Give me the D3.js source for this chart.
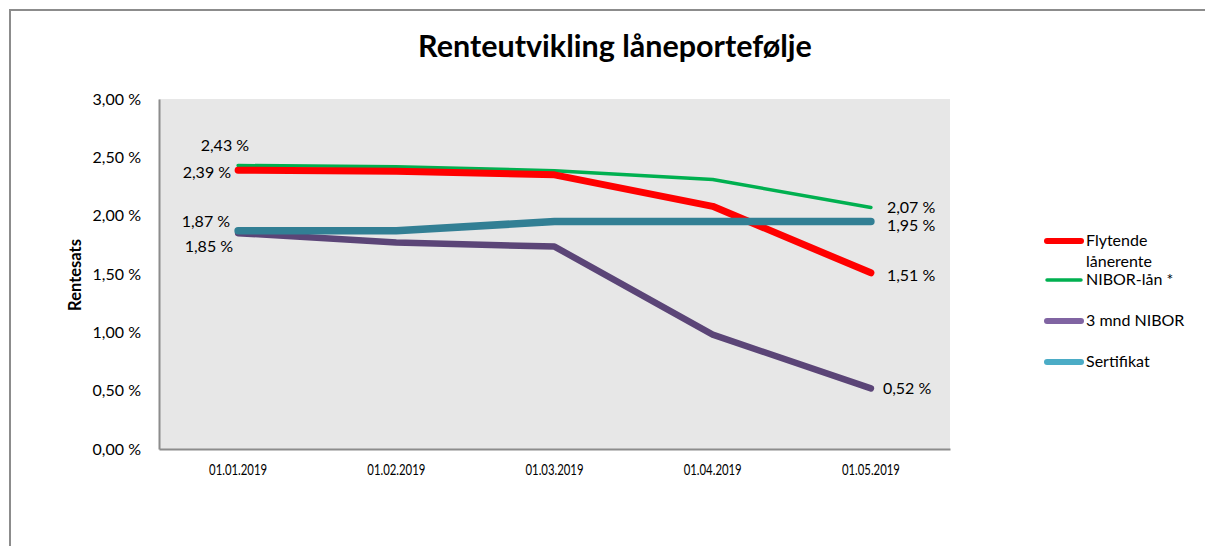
<!DOCTYPE html>
<html>
<head>
<meta charset="utf-8">
<script src="https://cdn.jsdelivr.net/npm/d3@7"></script>
<style>
  body { margin: 0; background: #fff; }
  svg text { font-family: Lato, "Open Sans", sans-serif; fill: #000; }
</style>
</head>
<body>
<script>
(function(){
   var width = 1205;
   var height = 546;

   // data
   var dates = ["01.01.2019", "01.02.2019", "01.03.2019", "01.04.2019", "01.05.2019"];
   var flytende = [2.39, 2.38, 2.35, 2.08, 1.51];
   var niborLan = [2.43, 2.42, 2.385, 2.31, 2.07];
   var mndNibor = [1.85, 1.77, 1.735, 0.98, 0.52];
   var sertifikat = [1.87, 1.87, 1.95, 1.95, 1.95];
   var yTicks = [0, 0.5, 1, 1.5, 2, 2.5, 3];

   var series = [
     { name: "Flytende lånerente", values: flytende, color: "#ff0000", legend: "#ff0000", w: 7, lw: 6 },
     { name: "NIBOR-lån *", values: niborLan, color: "#00b050", legend: "#00b050", w: 3.5, lw: 3.5 },
     { name: "3 mnd NIBOR", values: mndNibor, color: "#5b4577", legend: "#8064a2", w: 6.5, lw: 6 },
     { name: "Sertifikat", values: sertifikat, color: "#327f94", legend: "#4bacc6", w: 7.5, lw: 6 }
   ];

   var fmt = function(v){ return v.toFixed(2).replace(".", ",") + " %"; };

   var plot = { left: 159, right: 950, top: 99, bottom: 449 };

   var svg = d3.select("body").append("svg")
       .attr("width", width)
       .attr("height", height);

   // outer chart border
   svg.append("path")
       .attr("d", "M10," + height + " L10,10 L" + width + ",10")
       .attr("fill", "none")
       .attr("stroke", "#8c8c8c")
       .attr("stroke-width", 2);

   svg.append("text")
       .attr("x", 615).attr("y", 57)
       .attr("text-anchor", "middle")
       .style("font-size", "30.5px")
       .style("font-weight", "bold")
       .text("Renteutvikling låneportefølje");

   var xScale = d3.scaleBand()
       .domain(dates)
       .range([plot.left, plot.right]);
   var xPos = function(i){ return xScale(dates[i]) + xScale.bandwidth() / 2; };

   var yScale = d3.scaleLinear()
       .domain([0, 3])
       .range([plot.bottom, plot.top]);

   svg.append("rect")
       .attr("x", plot.left).attr("y", plot.top)
       .attr("width", plot.right - plot.left)
       .attr("height", plot.bottom - plot.top)
       .attr("fill", "#e7e7e7");

   var yAxis = svg.append("g")
       .attr("transform", "translate(" + plot.left + ",0)")
       .call(d3.axisLeft(yScale).tickValues(yTicks).tickFormat(fmt).tickSize(0).tickPadding(18));
   yAxis.select(".domain").attr("stroke", "#8c8c8c").attr("stroke-width", 2);
   yAxis.selectAll("text").style("font-size", "16px").style("font-family", "Lato, sans-serif");

   var xAxis = svg.append("g")
       .attr("transform", "translate(0," + plot.bottom + ")")
       .call(d3.axisBottom(xScale).tickSize(0).tickPadding(15));
   xAxis.select(".domain").attr("stroke", "#8c8c8c").attr("stroke-width", 2);
   // narrow date labels, like the original condensed face
   xAxis.selectAll("text")
       .style("font-size", "16px")
       .style("font-family", "Lato, sans-serif")
       .attr("textLength", 58)
       .attr("lengthAdjust", "spacingAndGlyphs");

   svg.append("text")
       .attr("transform", "translate(81,275) rotate(-90)")
       .attr("text-anchor", "middle")
       .style("font-size", "16.5px")
       .style("font-weight", "bold")
       .text("Rentesats");

   var linefunc = d3.line()
       .x(function(d, i){ return xPos(i); })
       .y(function(d){ return yScale(d); });

   // draw order: green, red, purple, teal
   [1, 0, 2, 3].forEach(function(k){
     var s = series[k];
     svg.append("path")
         .attr("d", linefunc(s.values))
         .attr("fill", "none")
         .attr("stroke", s.color)
         .attr("stroke-width", s.w)
         .attr("stroke-linecap", "round")
         .attr("stroke-linejoin", "round");
   });

   // data labels at first and last points
   var firstLabels = [
     { s: 1, dx: 11, dy: -15 },
     { s: 0, dx: -7, dy: 8 },
     { s: 3, dx: -8, dy: -4 },
     { s: 2, dx: -5, dy: 19 }
   ];
   firstLabels.forEach(function(l){
     var v = series[l.s].values[0];
     svg.append("text")
         .attr("x", xPos(0) + l.dx)
         .attr("y", yScale(v) + l.dy)
         .attr("text-anchor", "end")
         .style("font-size", "16px")
         .text(fmt(v));
   });
   var lastLabels = [
     { s: 1, dy: 5 },
     { s: 3, dy: 9.5 },
     { s: 0, dy: 8 },
     { s: 2, dy: 6, dx: 12 }
   ];
   lastLabels.forEach(function(l){
     var n = dates.length - 1;
     var v = series[l.s].values[n];
     svg.append("text")
         .attr("x", xPos(n) + (l.dx || 16))
         .attr("y", yScale(v) + l.dy)
         .style("font-size", "16px")
         .text(fmt(v));
   });

   // legend
   var legendY = [241, 280, 321, 362];
   series.forEach(function(s, i){
     var g = svg.append("g").attr("transform", "translate(0," + legendY[i] + ")");
     g.append("line")
         .attr("x1", 1047).attr("x2", 1081)
         .attr("stroke", s.legend)
         .attr("stroke-width", s.lw)
         .attr("stroke-linecap", "round");
     var t = g.append("text")
         .attr("x", 1086).attr("y", 5)
         .style("font-size", "16px");
     if (i === 0) {
       t.append("tspan").attr("x", 1086).text("Flytende");
       t.append("tspan").attr("x", 1086).attr("dy", 21).text("lånerente");
     } else {
       t.text(s.name);
     }
   });
})();
</script>
</body>
</html>
